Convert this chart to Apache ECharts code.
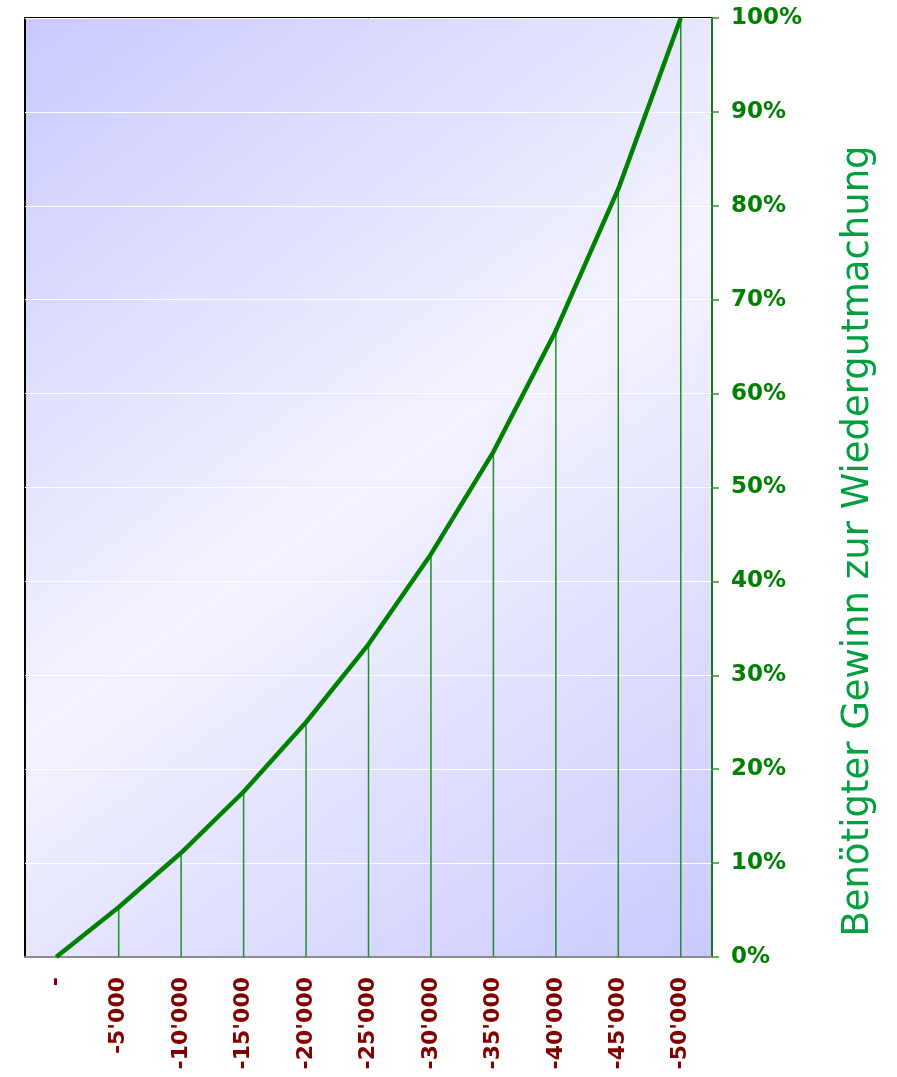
<!DOCTYPE html>
<html>
<head>
<meta charset="utf-8">
<script src="https://cdn.jsdelivr.net/npm/echarts@6/dist/echarts.min.js"></script>
<style>html,body{margin:0;padding:0;background:#fff}#c{width:897px;height:1077px}</style>
</head>
<body>
<div id="c"></div>
<script>
const categories = ["-", "-5'000", "-10'000", "-15'000", "-20'000", "-25'000", "-30'000", "-35'000", "-40'000", "-45'000", "-50'000"];
const requiredGain = [0, 5.3, 11.1, 17.6, 25.0, 33.3, 42.9, 53.8, 66.7, 81.8, 100.0];
const yTicks = [0, 10, 20, 30, 40, 50, 60, 70, 80, 90, 100];
const yTitle = "Benötigter Gewinn zur Wiedergutmachung";

const chart = echarts.init(document.getElementById('c'), null, {renderer: 'canvas'});
chart.setOption({
  animation: false,
  backgroundColor: '#ffffff',
  grid: {
    left: 25, right: 185, top: 18, bottom: 120,
    show: true,
    borderColor: '#000000', borderWidth: 2,
    backgroundColor: {
      type: 'linear', x: 0, y: 0, x2: 1, y2: 1,
      colorStops: [
        {offset: 0, color: '#c9c9ff'},
        {offset: 0.5, color: '#f3f3ff'},
        {offset: 1, color: '#c9c9ff'}
      ]
    }
  },
  xAxis: {
    type: 'category',
    data: categories,
    boundaryGap: true,
    axisLine: {show: true, lineStyle: {color: '#8c8c8c', width: 2}},
    axisTick: {show: false},
    splitLine: {show: false},
    axisLabel: {
      rotate: 90, interval: 0, margin: 20,
      color: '#800000', fontFamily: 'DejaVu Sans', fontWeight: 'bold', fontSize: 22
    }
  },
  yAxis: {
    type: 'value',
    position: 'right',
    min: yTicks[0], max: yTicks[yTicks.length - 1], interval: 10,
    axisLine: {show: true, lineStyle: {color: '#2a9a2a', width: 1.5}},
    axisTick: {show: true, length: 7, lineStyle: {color: '#2a9a2a', width: 1.5}},
    splitLine: {show: true, lineStyle: {color: '#ffffff', width: 1}},
    axisLabel: {
      margin: 19,
      padding: [5, 0, 0, 0],
      color: '#008000', fontFamily: 'DejaVu Sans', fontWeight: 'bold', fontSize: 23,
      formatter: v => v + '%'
    }
  },
  series: [
    {
      type: 'bar',
      data: requiredGain,
      barWidth: 1.5,
      itemStyle: {color: '#1f8f26'},
      z: 2,
      silent: true
    },
    {
      type: 'line',
      data: requiredGain,
      symbol: 'none',
      lineStyle: {color: '#008000', width: 4.5},
      z: 3
    }
  ],
  graphic: [{
    type: 'text',
    x: 858, y: 541,
    rotation: Math.PI / 2,
    style: {
      text: yTitle,
      fill: '#00a040',
      font: '37px "DejaVu Sans"',
      textAlign: 'center',
      textVerticalAlign: 'middle'
    }
  }]
});
</script>
</body>
</html>
